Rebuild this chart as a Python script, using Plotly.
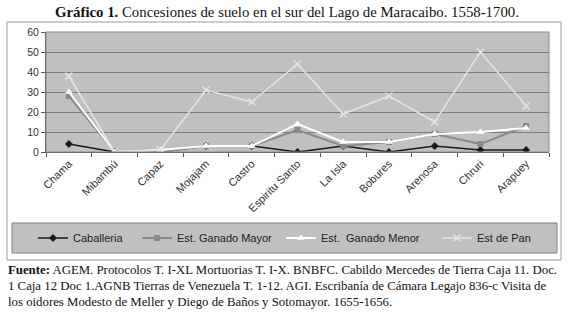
import plotly.graph_objects as go

categories = ["Chama", "Mibambú", "Capaz", "Mojajam", "Castro", "Espiritu Santo",
              "La Isla", "Bobures", "Arenosa", "Chruri", "Arapuey"]
caballeria = [4, 0, 0, 3, 3, 0, 3, 0, 3, 1, 1]
ganado_mayor = [28, 0, 0, 3, 3, 11, 3, 5, 9, 4, 13]
ganado_menor = [30, 0, 1, 3, 3, 14, 5, 5, 9, 10, 12]
est_pan = [38, 0, 1, 31, 25, 44, 19, 28, 15, 50, 23]
y_ticks = [0, 10, 20, 30, 40, 50, 60]

W, H = 570, 319
PL, PR, PT, PB = 46, 549, 32, 152  # plot area in pixels


def px(x):
    return (x - PL) / (PR - PL)


def py(y):
    return (PB - y) / (PB - PT)


sans = "Liberation Sans, Arial, sans-serif"
serif = "Liberation Serif, Times New Roman, serif"

fig = go.Figure()
fig.add_trace(go.Scatter(x=categories, y=caballeria, name="Caballeria", mode="lines+markers",
                         line=dict(color="#1a1a1a", width=1.5),
                         marker=dict(symbol="diamond", size=6, color="#1a1a1a"),
                         legend="legend"))
fig.add_trace(go.Scatter(x=categories, y=ganado_mayor, name="Est. Ganado Mayor", mode="lines+markers",
                         line=dict(color="#8a8a8a", width=2),
                         marker=dict(symbol="square", size=6, color="#8a8a8a"),
                         legend="legend2"))
fig.add_trace(go.Scatter(x=categories, y=ganado_menor, name="Est.  Ganado Menor", mode="lines+markers",
                         line=dict(color="#ffffff", width=2),
                         marker=dict(symbol="triangle-up", size=7, color="#ffffff"),
                         legend="legend3"))
fig.add_trace(go.Scatter(x=categories, y=est_pan, name="Est de Pan", mode="lines+markers",
                         line=dict(color="#e4e4e4", width=1.5),
                         marker=dict(symbol="x-thin", size=7, color="#e4e4e4",
                                     line=dict(color="#e4e4e4", width=1.5)),
                         legend="legend4"))

leg_common = dict(orientation="h", yanchor="middle", xanchor="left",
                  bgcolor="rgba(0,0,0,0)", font=dict(family=sans, size=11, color="#222"),
                  itemwidth=30)
fig.update_layout(
    showlegend=True,
    legend=dict(x=px(33), y=py(238), **leg_common),
    legend2=dict(x=px(137), y=py(238), **leg_common),
    legend3=dict(x=px(281), y=py(238), **leg_common),
    legend4=dict(x=px(437), y=py(238), **leg_common),
)

shapes = [
    dict(type="rect", xref="paper", yref="paper", x0=px(7), x1=px(561), y0=py(260), y1=py(22),
         line=dict(color="#9a9a9a", width=1), fillcolor="rgba(0,0,0,0)", layer="below"),
    dict(type="rect", xref="paper", yref="paper", x0=px(12), x1=px(557), y0=py(253), y1=py(223),
         line=dict(color="#808080", width=1), fillcolor="#c0c0c0", layer="below"),
    dict(type="rect", xref="paper", yref="paper", x0=0, x1=1, y0=0, y1=1,
         line=dict(color="#8a8a8a", width=1), fillcolor="rgba(0,0,0,0)", layer="above"),
]

annotations = [
    dict(text="<b>Gráfico 1.</b> Concesiones de suelo en el sur del Lago de Maracaibo. 1558-1700.",
         xref="paper", yref="paper", x=px(287), y=py(12), xanchor="center", yanchor="middle",
         showarrow=False, font=dict(family=serif, size=14.8, color="#111")),
]
footer = [
    "<b>Fuente:</b> AGEM. Protocolos T. I-XL Mortuorias T. I-X. BNBFC. Cabildo Mercedes de Tierra Caja 11. Doc.",
    "1 Caja 12 Doc 1.AGNB Tierras de Venezuela T. 1-12. AGI. Escribanía de Cámara Legajo 836-c Visita de",
    "los oidores Modesto de Meller y Diego de Baños y Sotomayor. 1655-1656.",
]
for i, line in enumerate(footer):
    annotations.append(dict(text=line, xref="paper", yref="paper", x=px(6), y=py(270 + 16 * i),
                            xanchor="left", yanchor="middle", showarrow=False,
                            font=dict(family=serif, size=12.8, color="#111")))

fig.update_layout(
    width=W, height=H,
    margin=dict(l=PL, r=W - PR, t=PT, b=H - PB, autoexpand=False),
    paper_bgcolor="white",
    plot_bgcolor="#c0c0c0",
    shapes=shapes,
    annotations=annotations,
    xaxis=dict(type="category", tickangle=-45, tickson="boundaries", ticks="outside", ticklen=4,
               tickcolor="#555", showline=True, linecolor="#555", linewidth=1, showgrid=False,
               automargin=False,
               tickfont=dict(family=sans, size=11, color="#333"), range=[-0.5, 10.5]),
    yaxis=dict(range=[0, 60], tickvals=y_ticks, ticks="outside", ticklen=4, tickcolor="#555",
               showline=True, linecolor="#555", linewidth=1, gridcolor="#7c7c7c", gridwidth=1,
               automargin=False,
               zeroline=False, tickfont=dict(family=sans, size=10.5, color="#333")),
)

fig.write_html("out.html", config={"displayModeBar": False},
               post_script="document.body.style.margin='0px';")
